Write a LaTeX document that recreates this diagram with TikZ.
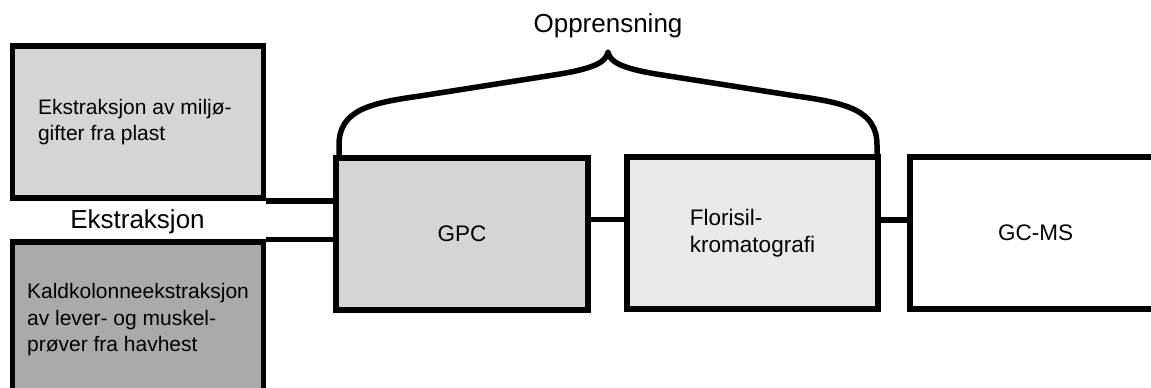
\documentclass[tikz,border=0pt]{standalone}
\usepackage{fontspec}
\setmainfont{Liberation Sans}
\definecolor{fillA}{RGB}{213,213,213}
\definecolor{fillB}{RGB}{170,170,170}
\definecolor{fillC}{RGB}{213,213,213}
\definecolor{fillD}{RGB}{233,233,233}
\tikzset{
  stagebox/.style={draw=black, line width=5.5pt, rectangle, inner sep=0pt, align=left,
    font=\fontsize{21}{26.5}\selectfont},
  midtext/.style={font=\fontsize{22.5}{27.5}\selectfont},
  link/.style={draw=black, line width=5.5pt},
  bracepath/.style={draw=black, line width=5.5pt, line join=round},
  biglabel/.style={inner sep=0pt, font=\fontsize{26}{30}\selectfont}
}
\begin{document}
\begin{tikzpicture}[x=1pt, y=-1pt]
\useasboundingbox (0,0) rectangle (1151,388);
\clip (0,0) rectangle (1151,388);
\fill[white] (0,0) rectangle (1151,388);
% boxes
\node[stagebox, fill=fillA, minimum width=251pt, minimum height=152pt] (b1) at (138,122)
  {\raisebox{-2.5pt}{\parbox{200pt}{\raggedright\fontsize{21}{26.5}\selectfont Ekstraksjon av miljø-\\gifter fra plast}}};
\node[stagebox, fill=fillB, minimum width=251pt, minimum height=156pt] (b2) at (138,320)
  {Kaldkolonneekstraksjon\\av lever- og muskel-\\prøver fra havhest};
\node[stagebox, midtext, fill=fillC, minimum width=252pt, minimum height=152pt] (gpc) at (462,234) {GPC};
\node[stagebox, midtext, fill=fillD, minimum width=251pt, minimum height=152pt] (flo) at (752.5,233)
  {Florisil-\\kromatografi};
\node[stagebox, midtext, fill=white, minimum width=251pt, minimum height=152pt] (gc) at (1035.5,233) {GC-MS};
% connectors
\draw[link] (b1.south east) -- (b1.south east -| gpc.west);
\draw[link] (b2.north east) -- (b2.north east -| gpc.west);
\draw[link] ([yshift=14.5pt]gpc.east) -- ([yshift=14.5pt]gpc.east -| flo.west);
\draw[link] ([yshift=13pt]flo.east) -- ([yshift=13pt]flo.east -| gc.west);
% labels
\node[biglabel, anchor=base] (ekstr) at (137.5,228) {Ekstraksjon};
\coordinate (tip) at (608,52);
\node[biglabel, anchor=base] (oppr) at (608,32) {Opprensning};
% brace
\draw[bracepath] (339,158) -- (339,145) .. controls (339,110) and (370,103) .. (420,96)
  -- (560,74) .. controls (595,68) and (606,62) .. (tip)
  .. controls (610,62) and (621,68) .. (656,74)
  -- (796,96) .. controls (846,103) and (877,110) .. (877,145) -- (877,158);
\end{tikzpicture}
\end{document}
